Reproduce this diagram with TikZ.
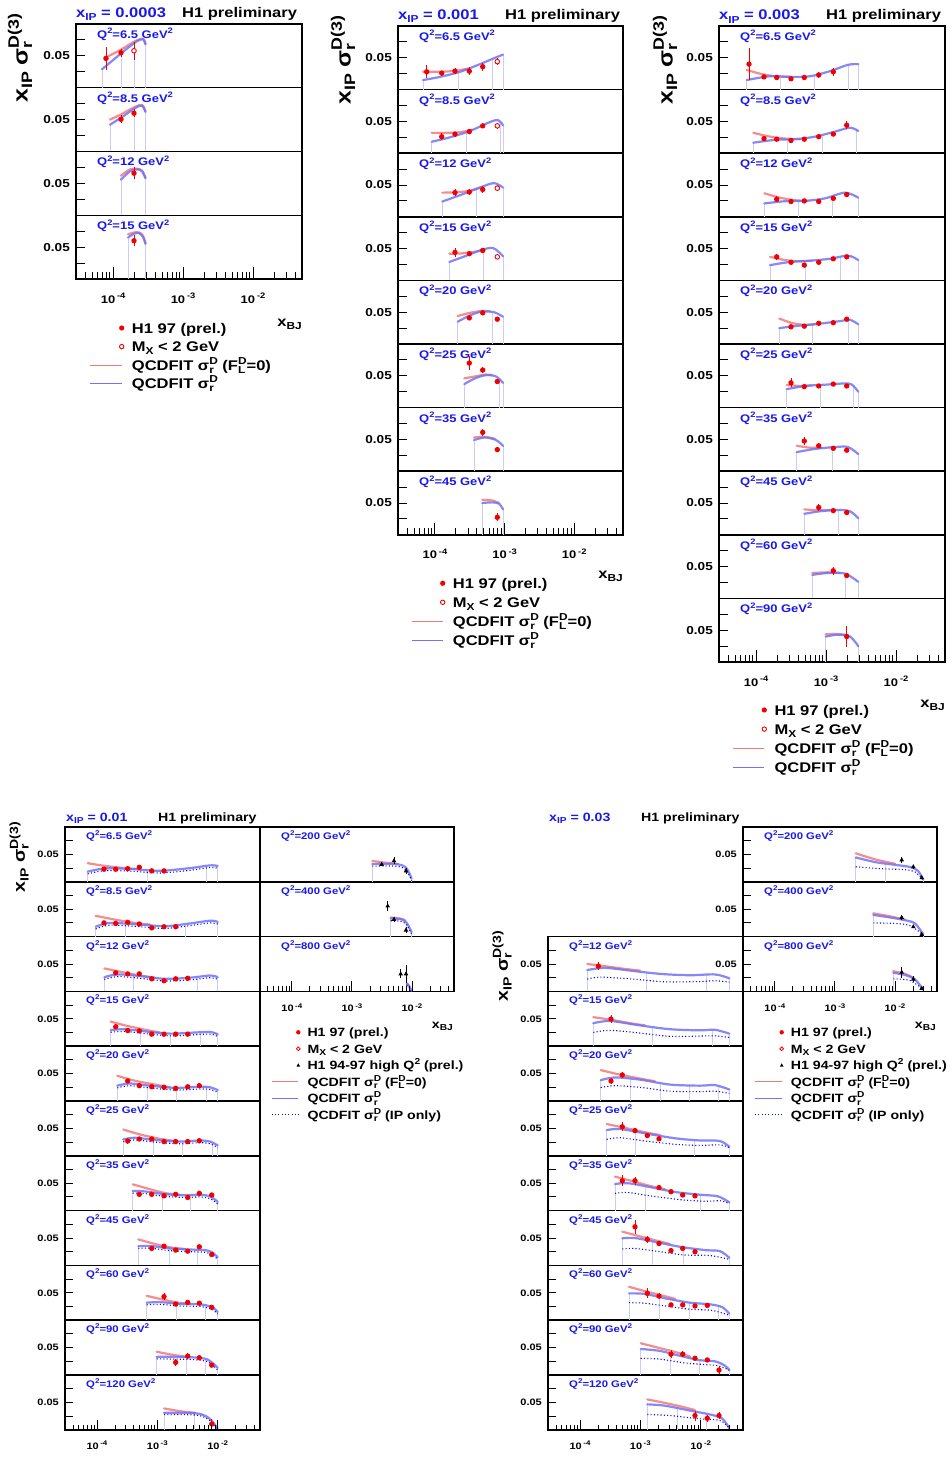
\documentclass[tikz,border=0pt]{standalone}
\usepackage{fontspec}
\setmainfont{Liberation Sans}[FakeStretch=1.18]
\usepackage{graphicx}
\newcommand\Sp[1]{\raisebox{0.42em}{\scalebox{0.72}{#1}}}
\newcommand\Sb[1]{\raisebox{-0.22em}{\scalebox{0.72}{#1}}}
\definecolor{qblue}{RGB}{25,25,235}
\definecolor{fitred}{RGB}{245,120,120}
\definecolor{fitblue}{RGB}{115,115,245}
\definecolor{ipblue}{RGB}{10,10,220}
\definecolor{binc}{RGB}{205,205,245}
\definecolor{dred}{RGB}{240,0,0}
\tikzset{
 frm/.style={line width=1.5pt,black},
 tk/.style={line width=0.9pt,black},
 redfit/.style={fitred,line width=2.2pt,line cap=round,opacity=0.85},
 bluefit/.style={fitblue,line width=2.2pt,line cap=round,opacity=0.85},
 ipfit/.style={ipblue,line width=1.1pt,dash pattern=on 1.1pt off 2.2pt},
 binl/.style={binc,line width=0.6pt},
 ebar/.style={dred,line width=0.9pt},
 tbar/.style={black,line width=0.8pt},
 numlab/.style={font=\fontsize{11.5}{12}\selectfont\bfseries},
 qlab/.style={qblue,font=\fontsize{11}{12}\selectfont\bfseries},
 axlab/.style={font=\fontsize{11}{12}\selectfont\bfseries},
 leg/.style={font=\fontsize{14}{15}\selectfont\bfseries,anchor=base west,inner sep=0},
 tit/.style={font=\fontsize{14}{15}\selectfont\bfseries,anchor=base west,inner sep=0},
 ytit/.style={font=\fontsize{21}{22}\selectfont\bfseries,rotate=90,inner sep=0},
 xtit/.style={font=\fontsize{14}{15}\selectfont\bfseries,anchor=base east,inner sep=0},
 rowsc/.style 2 args={shift={(0pt,-#1pt)},x=1pt,y=#2pt}
}
\def\qoff{14.5}
\def\ticklen{9}
\newcommand\rowbox[6]{%
  \draw[frm] (#1,#2) rectangle ++(#3,#4);
  \ifnum#6=1
    \foreach \k in {1,2,3} {\draw[tk] (#1,{#2+#4*\k/4}) -- ++(\ticklen,0);}
    \node[numlab,anchor=east,inner sep=0] at ({#1-6},{#2+#4/2}) {0.05};
  \fi
  \node[qlab,anchor=base west,inner sep=0] at ({#1+21},{#2+\qoff}) {Q\Sp{2}=#5 GeV\Sp{2}};
}
\newcommand\xaxis[6]{%
  \foreach \dd in {-5,-4,-3,-2}{\foreach \mm in {1,...,9}{%
    \pgfmathsetmacro\px{#1+(\dd+log10(\mm)+4.53)*#3/3.23}%
    \pgfmathtruncatemacro\ok{(\px>#1+0.8)&&(\px<#1+#3-0.8)}%
    \ifnum\ok=1 \ifnum\mm=1 \draw[tk] (\px,#2)--++(0,-#5); \else \draw[tk] (\px,#2)--++(0,-#4);\fi\fi}}
  \foreach \dd in {-4,-3,-2}{\pgfmathsetmacro\px{#1+(\dd+4.53)*#3/3.23}%
    \node[axlab,anchor=base] at (\px,{#2+#6}) {10\,\Sp{\dd}};}
}
\newcommand\bins[1]{\foreach \a/\b in {#1} {\draw[binl] (\a,0) -- (\a,\b);}}
\newcommand\fit[2]{\draw[redfit] plot[smooth,tension=0.5] coordinates {#2};
  \draw[bluefit] plot[smooth,tension=0.5] coordinates {#1};}
\newcommand\fitd[3]{\fit{#1}{#2}\draw[ipfit,yshift=#3] plot[smooth,tension=0.5] coordinates {#1};}
\newcommand\ipc[1]{\draw[ipfit] plot[smooth,tension=0.5] coordinates {#1};}
\newcommand\dpt[3]{\draw[ebar] (#1,{#2-#3}) -- (#1,{#2+#3}); \fill[dred] (#1,#2) circle[radius=2.7pt];}
\newcommand\opt[3]{\draw[ebar] (#1,{#2-#3}) -- (#1,{#2+#3}); \draw[dred,line width=0.9pt,fill=white] (#1,#2) circle[radius=2.3pt];}
\newcommand\tpt[3]{\draw[tbar] (#1,{#2-#3}) -- (#1,{#2+#3}); \fill (#1,#2) +(0pt,2.6pt) -- +(-2.3pt,-1.5pt) -- +(2.3pt,-1.5pt) -- cycle;}
\newcommand\dpts[1]{\foreach \a/\b/\c in {#1} {\dpt{\a}{\b}{\c}}}
\newcommand\tpts[1]{\foreach \a/\b/\c in {#1} {\tpt{\a}{\b}{\c}}}
\newcommand\sigD{σ\rlap{\Sb{r}}\Sp{D}}
\newcommand\legtop[4]{%
 \fill[dred] (#1,#2) circle[radius=2.6pt];
 \node[leg] at ({#1+10},{#2+5}) {H1 97 (prel.)};
 \draw[dred,line width=0.9pt,fill=white] (#1,{#2+#3}) circle[radius=2.2pt];
 \node[leg] at ({#1+10},{#2+#3+5}) {M\Sb{X} < 2 GeV};
 \draw[fitred,line width=1.1pt] (#4,{#2+2*#3}) -- (#1,{#2+2*#3});
 \node[leg] at ({#1+10},{#2+2*#3+5}) {QCDFIT \sigD{} (F\rlap{\Sb{L}}\Sp{D}=0)};
 \draw[fitblue,line width=1.1pt] (#4,{#2+3*#3}) -- (#1,{#2+3*#3});
 \node[leg] at ({#1+10},{#2+3*#3+5}) {QCDFIT \sigD};
}
\newcommand\legbot[4]{%
 \fill[dred] (#1,#2) circle[radius=2.2pt];
 \node[leg] at ({#1+9},{#2+4.5}) {H1 97 (prel.)};
 \draw[dred,line width=0.8pt,fill=white] (#1,{#2+#3}) circle[radius=1.9pt];
 \node[leg] at ({#1+9},{#2+#3+4.5}) {M\Sb{X} < 2 GeV};
 \fill (#1,{#2+2*#3}) +(0pt,2pt) -- +(-1.8pt,-1.2pt) -- +(1.8pt,-1.2pt) -- cycle;
 \node[leg] at ({#1+9},{#2+2*#3+4.5}) {H1 94-97 high Q\Sp{2} (prel.)};
 \draw[fitred,line width=1.1pt] (#4,{#2+3*#3}) -- (#1,{#2+3*#3});
 \node[leg] at ({#1+9},{#2+3*#3+4.5}) {QCDFIT \sigD{} (F\rlap{\Sb{L}}\Sp{D}=0)};
 \draw[fitblue,line width=1.1pt] (#4,{#2+4*#3}) -- (#1,{#2+4*#3});
 \node[leg] at ({#1+9},{#2+4*#3+4.5}) {QCDFIT \sigD};
 \draw[ipfit] (#4,{#2+5*#3}) -- (#1,{#2+5*#3});
 \node[leg] at ({#1+9},{#2+5*#3+4.5}) {QCDFIT \sigD{} (IP only)};
}
\begin{document}
\begin{tikzpicture}[x=1pt,y=-1pt]
\fill[white] (0,0) rectangle (951,1458);
\useasboundingbox (0,0) rectangle (951,1458);

%================ Panel 1: xIP = 0.0003
\node[tit,qblue] (t1) at (76,17.5) {x\Sb{IP} = 0.0003};
\node[tit] (h1) at (182,17.5) {H1 preliminary};
\node[ytit] (y1) at (20,58) {x\Sb{IP} \sigD\Sp{(3)}};
\foreach \q [count=\i from 0] in {6.5,8.5,12,15} {\rowbox{76}{24+63.75*\i}{226}{63.75}{\q}{1}}
\begin{scope}[rowsc={87.75}{6.375}]
\bins{102/2.9,121/5.2,134/6.4,145.5/6.8}
\fit{(102,2.9)(112,4.2)(125,5.9)(137,7.3)(143,7.6)(145.5,6.8)}{(104,4.6)(120,5.9)(135,7.3)(143,7.7)(145.5,6.9)}
\dpts{106/4.6/1.8,121/5.5/0.6}\opt{134}{5.8}{1.4}
\end{scope}
\begin{scope}[rowsc={151.5}{6.375}]
\bins{110/4.2,134/6.7,145.5/6.2}
\fit{(110,4.2)(122,5.4)(135,6.8)(142,7.2)(145.5,6.2)}{(110,5.0)(122,5.9)(135,7.0)(142,7.3)(145.5,6.3)}
\dpts{121/5.05/0.6,134/6.0/0.6}
\end{scope}
\begin{scope}[rowsc={215.25}{6.375}]
\bins{121/5.6,145.5/5.8}
\fit{(121,5.6)(130,6.9)(137,7.2)(142,6.9)(145.5,5.8)}{(121,6.2)(130,7.2)(137,7.3)(142,7.0)(145.5,5.9)}
\dpts{134/6.6/0.9}
\end{scope}
\begin{scope}[rowsc={279}{6.375}]
\bins{128/6.5,145.5/5.5}
\fit{(128,6.5)(134,7.1)(139,7.2)(143,6.6)(145.5,5.5)}{(128,7.0)(134,7.3)(139,7.3)(143,6.8)(145.5,5.6)}
\dpts{134/6.0/0.9}
\end{scope}
\xaxis{76}{279}{226}{7}{12}{24}
\node[xtit] (xb1) at (302,326) {x\Sb{BJ}};
\legtop{121.7}{328}{18.6}{90}

%================ Panel 2: xIP = 0.001
\node[tit,qblue] (t2) at (398,19.3) {x\Sb{IP} = 0.001};
\node[tit] (h2) at (505,19.3) {H1 preliminary};
\node[ytit] (y2) at (343,60) {x\Sb{IP} \sigD\Sp{(3)}};
\foreach \q [count=\i from 0] in {6.5,8.5,12,15,20,25,35,45} {\rowbox{398}{26+63.6*\i}{225}{63.6}{\q}{1}}
\begin{scope}[rowsc={89.6}{6.36}]
\bins{423/1.5,458/3.0,492/5.0,503/5.5}
\fit{(423,1.5)(440,2.0)(460,2.8)(480,4.0)(495,5.0)(503,5.5)}{(423,2.8)(440,2.8)(455,2.95)(468,3.3)}
\dpts{426.7/2.8/1.0,441.7/2.6/0.4,455/2.9/0.5,469.3/2.9/0.6,482.7/3.6/0.6}\opt{497.3}{4.4}{0.6}
\end{scope}
\begin{scope}[rowsc={153.2}{6.36}]
\bins{431.7/1.8,466/3.4,500/5.1,503/4.4}
\fit{(431.7,1.8)(450,2.5)(470,3.5)(490,4.9)(498,5.2)(503,4.4)}{(431.7,3.2)(445,3.2)(460,3.3)(472,3.7)}
\dpts{441.7/2.6/0.5,455/3.0/0.4,469.3/3.4/0.4,482.7/4.3/0.3}\opt{497.3}{4.3}{0.5}
\end{scope}
\begin{scope}[rowsc={216.8}{6.36}]
\bins{442.3/2.4,476/4.4,503/4.6}
\fit{(442.3,2.4)(460,3.4)(480,4.6)(494,5.3)(503,4.6)}{(442.3,3.8)(455,3.85)(470,4.1)(482,4.7)}
\dpts{455/3.8/0.6,469.3/3.9/0.4,482.7/4.3/0.5}\opt{497.3}{4.5}{0.5}
\end{scope}
\begin{scope}[rowsc={280.4}{6.36}]
\bins{449.3/2.9,483/4.9,503/3.8}
\fit{(449.3,2.9)(465,3.8)(480,4.7)(493,5.1)(503,3.8)}{(449.3,4.2)(462,4.25)(475,4.5)(485,4.9)}
\dpts{455/4.4/0.7,469.3/4.2/0.3,482.7/4.7/0.3}\opt{497.3}{3.7}{0.3}
\end{scope}
\begin{scope}[rowsc={344}{6.36}]
\bins{457.7/3.5,492/5.0,503/4.3}
\fit{(457.7,3.5)(470,4.5)(482,5.1)(494,5.0)(503,4.3)}{(457.7,4.4)(470,4.9)(482,5.2)(490,5.15)}
\dpts{469.3/4.1/0.4,482.7/4.9/0.3,497.3/3.9/0.3}
\end{scope}
\begin{scope}[rowsc={407.6}{6.36}]
\bins{464.3/3.7,499/4.6,503/3.9}
\fit{(464.3,3.7)(475,4.6)(486,5.1)(496,4.9)(503,3.9)}{(464.3,4.6)(475,4.9)(486,5.2)(492,5.1)}
\dpts{469.3/7.0/1.1,482.7/5.9/0.5,497.3/4.1/0.4}
\end{scope}
\begin{scope}[rowsc={471.2}{6.36}]
\bins{474/4.9,503/4.0}
\fit{(474,4.9)(485,5.3)(496,4.9)(503,4.0)}{(474,5.3)(485,5.4)(495,5.1)}
\dpts{482.7/6.1/0.6,497.3/3.4/0.4}
\end{scope}
\begin{scope}[rowsc={534.8}{6.36}]
\bins{482.3/5.0,503/4.0}
\fit{(482.3,5.0)(492,5.1)(499,4.9)(503,4.0)}{(482.3,5.5)(492,5.4)(499,5.0)}
\dpts{497.3/2.75/0.6}
\end{scope}
\xaxis{398}{534.8}{225}{7}{12}{24}
\node[xtit] (xb2) at (623,578.5) {x\Sb{BJ}};
\legtop{442.7}{583.3}{19}{411.7}

%================ Panel 3: xIP = 0.003
\node[tit,qblue] (t3) at (719,20) {x\Sb{IP} = 0.003};
\node[tit] (h3) at (826,20) {H1 preliminary};
\node[ytit] (y3) at (665,60) {x\Sb{IP} \sigD\Sp{(3)}};
\foreach \q [count=\i from 0] in {6.5,8.5,12,15,20,25,35,45,60,90} {\rowbox{719}{26+63.6*\i}{226}{63.6}{\q}{1}}
\begin{scope}[rowsc={89.6}{6.36}]
\bins{746.7/1.5,780/2.0,814/2.3,848/3.9,858.3/4.0}
\fit{(746.7,1.5)(770,2.1)(791,2.0)(810,2.1)(830,2.9)(848,3.9)(858.3,4.0)}{(746.7,3.1)(760,2.5)(775,2.1)(790,2.0)}
\dpts{749/4.0/2.5,764/2.0/0.3,776.7/1.9/0.3,791/1.7/0.3,804.3/1.9/0.3,818.7/2.3/0.4,833.3/2.8/0.6}
\end{scope}
\begin{scope}[rowsc={153.2}{6.36}]
\bins{753.3/1.65,787/2.2,822/2.8,856/3.8}
\fit{(753.3,1.65)(775,2.1)(795,2.2)(815,2.6)(835,3.4)(850,4.0)(858.3,3.5)}{(753.3,3.2)(770,2.6)(785,2.3)(800,2.2)}
\dpts{764/2.3/0.4,776.7/2.2/0.3,791/2.0/0.3,804.3/2.2/0.3,818.7/2.6/0.3,833.3/3.0/0.3,846.7/4.4/0.6}
\end{scope}
\begin{scope}[rowsc={216.8}{6.36}]
\bins{764.3/2.1,798/2.5,832/3.2,858.3/3.0}
\fit{(764.3,2.1)(785,2.45)(805,2.5)(825,2.9)(845,3.8)(858.3,3.0)}{(764.3,3.7)(780,3.0)(795,2.6)(808,2.5)}
\dpts{776.7/2.75/0.5,791/2.4/0.3,804.3/2.5/0.3,818.7/2.4/0.3,833.3/2.9/0.3,846.7/3.5/0.4}
\end{scope}
\begin{scope}[rowsc={280.4}{6.36}]
\bins{770/2.4,805/3.0,840/3.7,858.3/3.2}
\fit{(770,2.4)(790,2.9)(810,3.1)(830,3.4)(848,3.9)(858.3,3.2)}{(770,3.7)(785,3.2)(800,3.0)(812,3.1)}
\dpts{776.7/3.7/0.5,791/2.85/0.3,804.3/2.4/0.3,818.7/2.85/0.3,833.3/3.4/0.3,846.7/3.7/0.3}
\end{scope}
\begin{scope}[rowsc={344}{6.36}]
\bins{779.3/2.5,812/3.1,848/3.8,858.3/3.1}
\fit{(779.3,2.5)(800,2.9)(820,3.2)(840,3.6)(850,3.8)(858.3,3.1)}{(779.3,4.0)(792,3.3)(805,3.0)(815,3.1)}
\dpts{791/2.7/0.3,804.3/2.8/0.3,818.7/3.25/0.3,833.3/3.35/0.3,846.7/3.9/0.3}
\end{scope}
\begin{scope}[rowsc={407.6}{6.36}]
\bins{786.7/2.9,820/3.6,853/3.6,858.3/2.5}
\fit{(786.7,2.9)(805,3.4)(825,3.6)(845,3.8)(852,3.6)(858.3,2.5)}{(786.7,3.55)(800,3.4)(812,3.5)}
\dpts{791/3.9/0.7,804.3/3.3/0.3,818.7/3.4/0.3,833.3/3.7/0.3,846.7/3.4/0.3}
\end{scope}
\begin{scope}[rowsc={471.2}{6.36}]
\bins{796.7/3.0,832/3.8,858.3/2.7}
\fit{(796.7,3.0)(815,3.5)(835,3.8)(848,3.8)(858.3,2.7)}{(796.7,4.0)(810,3.7)(822,3.7)}
\dpts{804.3/4.75/0.6,818.7/4.0/0.3,833.3/3.6/0.3,846.7/3.3/0.3}
\end{scope}
\begin{scope}[rowsc={534.8}{6.36}]
\bins{804.3/3.3,838/3.9,858.3/2.6}
\fit{(804.3,3.3)(820,3.7)(838,3.9)(850,3.7)(858.3,2.6)}{(804.3,4.0)(818,3.85)(830,3.9)}
\dpts{818.7/4.3/0.6,833.3/3.8/0.3,846.7/3.5/0.3}
\end{scope}
\begin{scope}[rowsc={598.4}{6.36}]
\bins{812.3/3.7,845/3.9,858.3/2.6}
\fit{(812.3,3.7)(828,4.0)(845,3.9)(858.3,2.6)}{(812.3,4.0)(828,4.1)(840,4.0)}
\dpts{833.3/4.35/0.6,846.7/3.6/0.4}
\end{scope}
\begin{scope}[rowsc={662}{6.36}]
\bins{825.7/4.0,858.3/2.5}
\fit{(825.7,4.0)(838,4.3)(850,4.0)(858.3,2.5)}{(825.7,4.35)(838,4.4)(848,4.2)}
\dpts{846.7/4.0/1.6}
\end{scope}
\xaxis{719}{662}{226}{7}{12}{24}
\node[xtit] (xb3) at (945,707) {x\Sb{BJ}};
\legtop{764.3}{710}{19.1}{732.7}

%================ bottom panels: smaller fonts
\begin{scope}
\tikzset{
 numlab/.style={font=\fontsize{9.3}{10}\selectfont\bfseries},
 qlab/.style={qblue,font=\fontsize{9.6}{10}\selectfont\bfseries},
 axlab/.style={font=\fontsize{9.3}{10}\selectfont\bfseries},
 leg/.style={font=\fontsize{12}{13}\selectfont\bfseries,anchor=base west,inner sep=0},
 tit/.style={font=\fontsize{12}{13}\selectfont\bfseries,anchor=base west,inner sep=0},
 ytit/.style={font=\fontsize{16.5}{17}\selectfont\bfseries,rotate=90,inner sep=0},
 xtit/.style={font=\fontsize{12}{13}\selectfont\bfseries,anchor=base east,inner sep=0}}
\def\qoff{12.5}
\def\ticklen{8}

%---------------- Panel 4: xIP = 0.01
\node[tit,qblue] (t4) at (66,821) {x\Sb{IP} = 0.01};
\node[tit] (h4) at (158,821) {H1 preliminary};
\node[ytit] (y4) at (19,857) {x\Sb{IP} \sigD\Sp{(3)}};
\foreach \q [count=\i from 0] in {6.5,8.5,12,15,20,25,35,45,60,90,120} {\rowbox{65}{827+54.8*\i}{195}{54.8}{\q}{1}}
\foreach \q [count=\i from 0] in {200,400,800} {\rowbox{260}{827+54.8*\i}{194}{54.8}{\q}{0}}
\begin{scope}[rowsc={881.8}{5.48}]
\bins{87.7/1.85,147.7/2.1,206.7/2.9,217.7/2.9}
\fitd{(87.7,1.85)(105,2.45)(130,2.35)(160,2.0)(190,2.5)(210,3.0)(217.7,2.9)}{(87.7,3.4)(105,2.9)(125,2.5)(140,2.3)}{-2.2pt}
\dpts{104/2.3/0.3,115.7/2.3/0.3,127.7/2.4/0.3,139.3/2.65/0.3,151.7/2.0/0.3,164/2.0/0.4}
\end{scope}
\begin{scope}[rowsc={936.6}{5.48}]
\bins{95.7/1.8,125/2.4,185/2.2,217.7/2.7}
\fitd{(95.7,1.8)(110,2.5)(140,2.2)(165,1.9)(190,2.4)(210,2.9)(217.7,2.7)}{(95.7,3.8)(115,3.1)(135,2.5)(150,2.2)}{-2.2pt}
\dpts{104/2.5/0.4,115.7/2.4/0.3,127.7/2.6/0.3,139.3/2.3/0.3,151.7/1.6/0.3,164/1.8/0.3,175.7/1.8/0.3}
\end{scope}
\begin{scope}[rowsc={991.4}{5.48}]
\bins{104.3/2.6,133/2.9,197/2.6,217.7/2.6}
\fitd{(104.3,2.6)(118,3.1)(140,2.8)(165,2.3)(190,2.5)(210,2.9)(217.7,2.6)}{(104.3,4.2)(120,3.6)(140,2.9)(155,2.5)}{-2.2pt}
\dpts{115.7/3.4/0.4,127.7/3.2/0.3,139.3/3.2/0.3,151.7/2.3/0.3,164/1.95/0.3,175.7/2.3/0.3,187.7/2.4/0.3}
\end{scope}
\begin{scope}[rowsc={1046.2}{5.48}]
\bins{110.7/2.95,140/2.8,170/2.3,200/2.55,217.7/2.2}
\fitd{(110.7,2.95)(125,3.1)(145,2.7)(170,2.3)(195,2.5)(210,2.6)(217.7,2.2)}{(110.7,4.5)(125,3.8)(145,3.0)(160,2.5)}{-2.2pt}
\dpts{115.7/3.55/0.5,127.7/2.85/0.3,139.3/2.8/0.3,151.7/2.2/0.3,164/2.2/0.3,175.7/2.2/0.3,187.7/2.2/0.3}
\end{scope}
\begin{scope}[rowsc={1101}{5.48}]
\bins{117.3/2.8,147.7/2.85,176.7/2.4,206.7/2.55,217.7/2.0}
\fitd{(117.3,2.8)(130,3.2)(150,2.8)(175,2.4)(200,2.6)(210,2.5)(217.7,2.0)}{(117.3,4.6)(135,3.7)(155,3.0)(170,2.5)}{-2.2pt}
\dpts{127.7/3.65/0.4,139.3/2.8/0.3,151.7/2.6/0.3,164/2.5/0.3,175.7/2.3/0.3,187.7/2.6/0.3,199.3/2.8/0.3}
\end{scope}
\begin{scope}[rowsc={1155.8}{5.48}]
\bins{123.3/3.0,153.3/2.9,182.3/2.6,212.7/2.4,217.7/1.9}
\fitd{(123.3,3.0)(135,3.3)(155,2.9)(180,2.6)(200,2.8)(210,2.6)(217.7,1.9)}{(123.3,4.8)(140,3.9)(160,3.1)(175,2.7)}{-2.2pt}
\dpts{127.7/2.7/0.5,139.3/3.07/0.3,151.7/3.07/0.3,164/2.6/0.3,175.7/2.6/0.3,187.7/2.6/0.3,199.3/2.75/0.3}
\end{scope}
\begin{scope}[rowsc={1210.6}{5.48}]
\bins{132.7/3.6,162/3.1,190.7/2.8,217.7/1.6}
\fitd{(132.7,3.6)(145,3.5)(165,3.0)(185,2.8)(200,2.9)(210,2.6)(217.7,1.6)}{(132.7,4.8)(150,3.9)(165,3.2)(180,2.9)}{-2.2pt}
\dpts{139.3/2.97/0.5,151.7/2.97/0.3,164/2.7/0.3,175.7/2.97/0.3,187.7/2.4/0.4,199.3/3.15/0.3,211.7/2.85/0.3}
\end{scope}
\begin{scope}[rowsc={1265.4}{5.48}]
\bins{138.3/3.5,169/3.1,197.3/2.8,217.7/1.5}
\fitd{(138.3,3.5)(150,3.55)(170,3.1)(190,2.9)(205,2.8)(212,2.4)(217.7,1.5)}{(138.3,4.75)(155,3.9)(170,3.3)(185,3.0)}{-2.2pt}
\dpts{151.7/3.1/0.5,164/3.5/0.3,175.7/2.8/0.3,187.7/2.6/0.3,199.3/3.4/0.3,211.7/2.0/0.3}
\end{scope}
\begin{scope}[rowsc={1320.2}{5.48}]
\bins{146.7/3.2,176.7/3.0,205/2.8,217.7/1.5}
\fitd{(146.7,3.2)(160,3.3)(180,3.0)(200,2.9)(212,2.4)(217.7,1.5)}{(146.7,4.45)(162,3.8)(178,3.2)(190,3.0)}{-2.2pt}
\dpts{164/4.3/0.6,175.7/2.95/0.3,187.7/3.25/0.3,199.3/3.1/0.3,211.7/2.35/0.3}
\end{scope}
\begin{scope}[rowsc={1375}{5.48}]
\bins{156.7/3.35,186/3.3,205.3/3.0,217.7/1.3}
\fitd{(156.7,3.35)(175,3.3)(195,3.2)(208,2.8)(217.7,1.3)}{(156.7,4.25)(172,3.7)(188,3.3)}{-2.2pt}
\dpts{175.7/2.3/0.7,187.7/3.45/0.5,199.3/3.15/0.3,211.7/1.8/0.3}
\end{scope}
\begin{scope}[rowsc={1429.8}{5.48}]
\bins{164/3.1,194.3/3.05,217.7/0.2}
\fitd{(164,3.1)(185,3.1)(200,2.9)(210,2.0)(217.7,0.2)}{(164,3.9)(180,3.4)(195,3.1)}{-1.8pt}
\dpts{211.7/1.05/0.9}
\end{scope}
% right column of panel 4
\begin{scope}[rowsc={881.8}{5.48}]
\bins{372.3/3.25,411.7/0.6}
\fitd{(372.3,3.25)(385,3.3)(398,3.2)(406,2.6)(411.7,0.6)}{(372.3,3.8)(385,3.5)(398,3.25)}{-2.2pt}
\tpts{381.7/3.2/0.3,394/3.85/0.6,406/2.0/0.5}
\end{scope}
\begin{scope}[rowsc={936.6}{5.48}]
\bins{390.7/3.3,411.7/0.8}
\fitd{(390.7,3.3)(400,3.2)(406,2.7)(411.7,0.8)}{(390.7,3.5)(400,3.3)(405,3.0)}{-2.2pt}
\tpts{387.7/5.6/0.9,394/3.15/0.5,406/1.2/0.5}
\end{scope}
\begin{scope}[rowsc={991.4}{5.48}]
\bins{406.7/1.4}
\fitd{(406.7,1.4)(409,1.0)(411.7,0.1)}{(406.7,1.5)(409,1.1)}{-1.5pt}
\tpts{400.7/3.2/0.8,406/3.2/1.7}
\end{scope}
\xaxis{65}{1429.8}{195}{5}{10}{20}
\xaxis{260}{991.4}{194}{5}{10}{20.5}
\node[xtit] (xb4) at (453,1028) {x\Sb{BJ}};
\legbot{298.3}{1032.3}{16.5}{271.7}

%---------------- Panel 5: xIP = 0.03
\node[tit,qblue] (t5) at (549,821) {x\Sb{IP} = 0.03};
\node[tit] (h5) at (641,821) {H1 preliminary};
\node[ytit] (y5) at (502,966) {x\Sb{IP} \sigD\Sp{(3)}};
\foreach \q [count=\i from 0] in {200,400,800} {\rowbox{743}{827+54.8*\i}{194}{54.8}{\q}{1}}
\foreach \q [count=\i from 0] in {12,15,20,25,35,45,60,90,120} {\rowbox{548}{936.6+54.8*\i}{195}{54.8}{\q}{1}}
\begin{scope}[rowsc={881.8}{5.48}]
\bins{855.7/4.45,885/3.3,923.3/0.4}
\fit{(855.7,4.45)(875,3.6)(895,3.1)(910,2.7)(918,2.0)(923.3,0.4)}{(855.7,5.2)(875,4.1)(895,3.3)}
\ipc{(855.7,2.75)(880,2.4)(905,2.2)(915,1.8)(923.3,0.4)}
\tpts{901.7/4.0/0.5,913.3/2.75/0.4,921.7/0.75/0.3}
\end{scope}
\begin{scope}[rowsc={936.6}{5.48}]
\bins{873.3/3.95,923.3/0.4}
\fit{(873.3,3.95)(890,3.5)(905,3.0)(915,2.4)(923.3,0.4)}{(873.3,4.25)(890,3.7)(905,3.1)}
\ipc{(873.3,2.5)(895,2.4)(910,2.0)(923.3,0.3)}
\tpts{901.7/3.5/0.5,913.3/1.8/0.3,921.7/0.4/0.3}
\end{scope}
\begin{scope}[rowsc={991.4}{5.48}]
\bins{893.3/3.4,923.3/0.3}
\fit{(893.3,3.4)(905,3.0)(915,2.2)(923.3,0.3)}{(893.3,3.7)(905,3.2)(912,2.6)}
\ipc{(893.3,2.3)(910,2.0)(923.3,0.3)}
\tpts{901.7/3.5/1.0,913.3/2.25/0.5,921.7/0.55/0.3}
\end{scope}
\begin{scope}[rowsc={991.4}{5.48}]
\bins{587.3/3.9,646.3/3.4,706/3.0,729.3/2.4}
\fit{(587.3,3.9)(605,4.3)(630,3.8)(660,3.2)(690,2.95)(715,3.1)(729.3,2.4)}{(587.3,5.0)(605,4.6)(625,4.1)(640,3.8)}
\ipc{(587.3,2.25)(600,2.6)(630,2.3)(665,1.75)(700,1.8)(715,1.95)(729.3,1.7)}
\dpts{598.3/4.6/0.7}
\end{scope}
\begin{scope}[rowsc={1046.2}{5.48}]
\bins{593.3/4.2,652.7/3.5,712.3/3.0,729.3/2.3}
\fit{(593.3,4.2)(610,4.6)(640,3.8)(670,3.1)(700,2.9)(715,3.0)(729.3,2.3)}{(593.3,5.3)(612,4.8)(630,4.2)(645,3.8)}
\ipc{(593.3,2.5)(610,2.9)(640,2.4)(670,1.8)(700,1.85)(715,1.9)(729.3,1.6)}
\dpts{611/4.95/0.8}
\end{scope}
\begin{scope}[rowsc={1101}{5.48}]
\bins{600.7/3.8,630/4.2,660/3.1,689.3/2.8,718/2.8,729.3/2.1}
\fit{(600.7,3.8)(615,4.3)(640,3.9)(670,3.0)(700,2.8)(715,2.9)(729.3,2.1)}{(600.7,5.65)(620,4.8)(640,4.1)(655,3.6)}
\ipc{(600.7,2.45)(615,2.8)(640,2.5)(670,1.8)(700,1.7)(715,1.8)(729.3,1.4)}
\dpts{611/3.65/0.6,622.3/4.75/0.6}
\end{scope}
\begin{scope}[rowsc={1155.8}{5.48}]
\bins{606.7/4.7,635.3/4.6,694.7/2.8,729.3/1.65}
\fit{(606.7,4.7)(620,4.9)(645,4.1)(675,3.2)(700,2.8)(720,2.7)(729.3,1.65)}{(606.7,5.8)(625,5.1)(645,4.3)(660,3.8)}
\ipc{(606.7,3.0)(620,3.3)(645,2.7)(675,2.1)(700,1.9)(720,2.0)(729.3,1.5)}
\dpts{622.3/5.3/0.8,635/4.6/0.5,647.3/3.7/0.5,659/3.1/0.3}
\end{scope}
\begin{scope}[rowsc={1210.6}{5.48}]
\bins{615/4.85,645/4.4,700/2.9,729.3/1.5}
\fit{(615,4.85)(628,5.0)(650,4.3)(675,3.4)(700,2.9)(718,2.6)(729.3,1.5)}{(615,6.2)(632,5.4)(650,4.5)(665,3.9)}
\ipc{(615,3.15)(628,3.3)(650,2.7)(680,2.0)(705,1.7)(720,1.8)(729.3,1.3)}
\dpts{622.3/5.45/1.0,635/5.45/0.7,659/4.2/0.5,671/3.45/0.4,682.7/2.85/0.3,695/2.7/0.3}
\end{scope}
\begin{scope}[rowsc={1265.4}{5.48}]
\bins{622.3/4.95,652/4.4,683.3/3.3,729.3/1.4}
\fit{(622.3,4.95)(635,5.0)(655,4.3)(680,3.4)(705,2.8)(720,2.6)(729.3,1.4)}{(622.3,6.15)(640,5.3)(655,4.6)(670,3.9)}
\ipc{(622.3,3.0)(635,3.1)(660,2.5)(685,1.9)(710,1.8)(729.3,1.1)}
\dpts{635/7.05/1.3,647.3/4.75/0.6,659/4.0/0.5,671/2.7/0.4,682.7/3.1/0.4,695/2.5/0.3}
\end{scope}
\begin{scope}[rowsc={1320.2}{5.48}]
\bins{629/4.9,659/4.3,689/3.2,718/2.7,729.3/1.2}
\fit{(629,4.9)(645,4.8)(665,4.0)(690,3.2)(710,2.9)(722,2.4)(729.3,1.2)}{(629,6.1)(645,5.3)(660,4.6)(675,3.9)}
\ipc{(629,3.2)(645,3.1)(665,2.6)(690,2.0)(712,1.8)(729.3,0.9)}
\dpts{647.3/4.9/0.9,659/4.4/0.6,671/2.8/0.3,682.7/2.8/0.3,695/2.6/0.4,707.3/2.7/0.3}
\end{scope}
\begin{scope}[rowsc={1375}{5.48}]
\bins{640.7/4.75,670.7/4.0,699.3/2.7,729.3/0.9}
\fit{(640.7,4.75)(660,4.4)(680,3.5)(700,2.7)(715,2.5)(725,1.7)(729.3,0.9)}{(640.7,5.8)(660,4.9)(675,4.2)(690,3.4)}
\ipc{(640.7,3.05)(660,2.9)(685,2.2)(705,1.9)(718,1.7)(729.3,0.9)}
\dpts{671/3.8/0.7,682.7/3.8/0.5,695/3.05/0.4,707.3/2.75/0.3,719/0.9/0.7}
\end{scope}
\begin{scope}[rowsc={1429.8}{5.48}]
\bins{647.3/4.65,677/4.1,706/2.9,729.3/0.3}
\fit{(647.3,4.65)(665,4.4)(690,3.5)(710,2.8)(722,2.1)(729.3,0.3)}{(647.3,5.55)(665,4.9)(680,4.3)(695,3.6)}
\ipc{(647.3,2.8)(670,2.6)(700,2.0)(720,1.7)(729.3,0.3)}
\dpts{695/2.6/0.9,707.3/2.1/0.6,719/2.6/0.6}
\end{scope}
\xaxis{548}{1429.8}{195}{5}{10}{20}
\xaxis{743}{991.4}{194}{5}{10}{20.5}
\node[xtit] (xb5) at (936,1028) {x\Sb{BJ}};
\legbot{781.7}{1032.3}{16.5}{755}
\end{scope}
\end{tikzpicture}
\end{document}
